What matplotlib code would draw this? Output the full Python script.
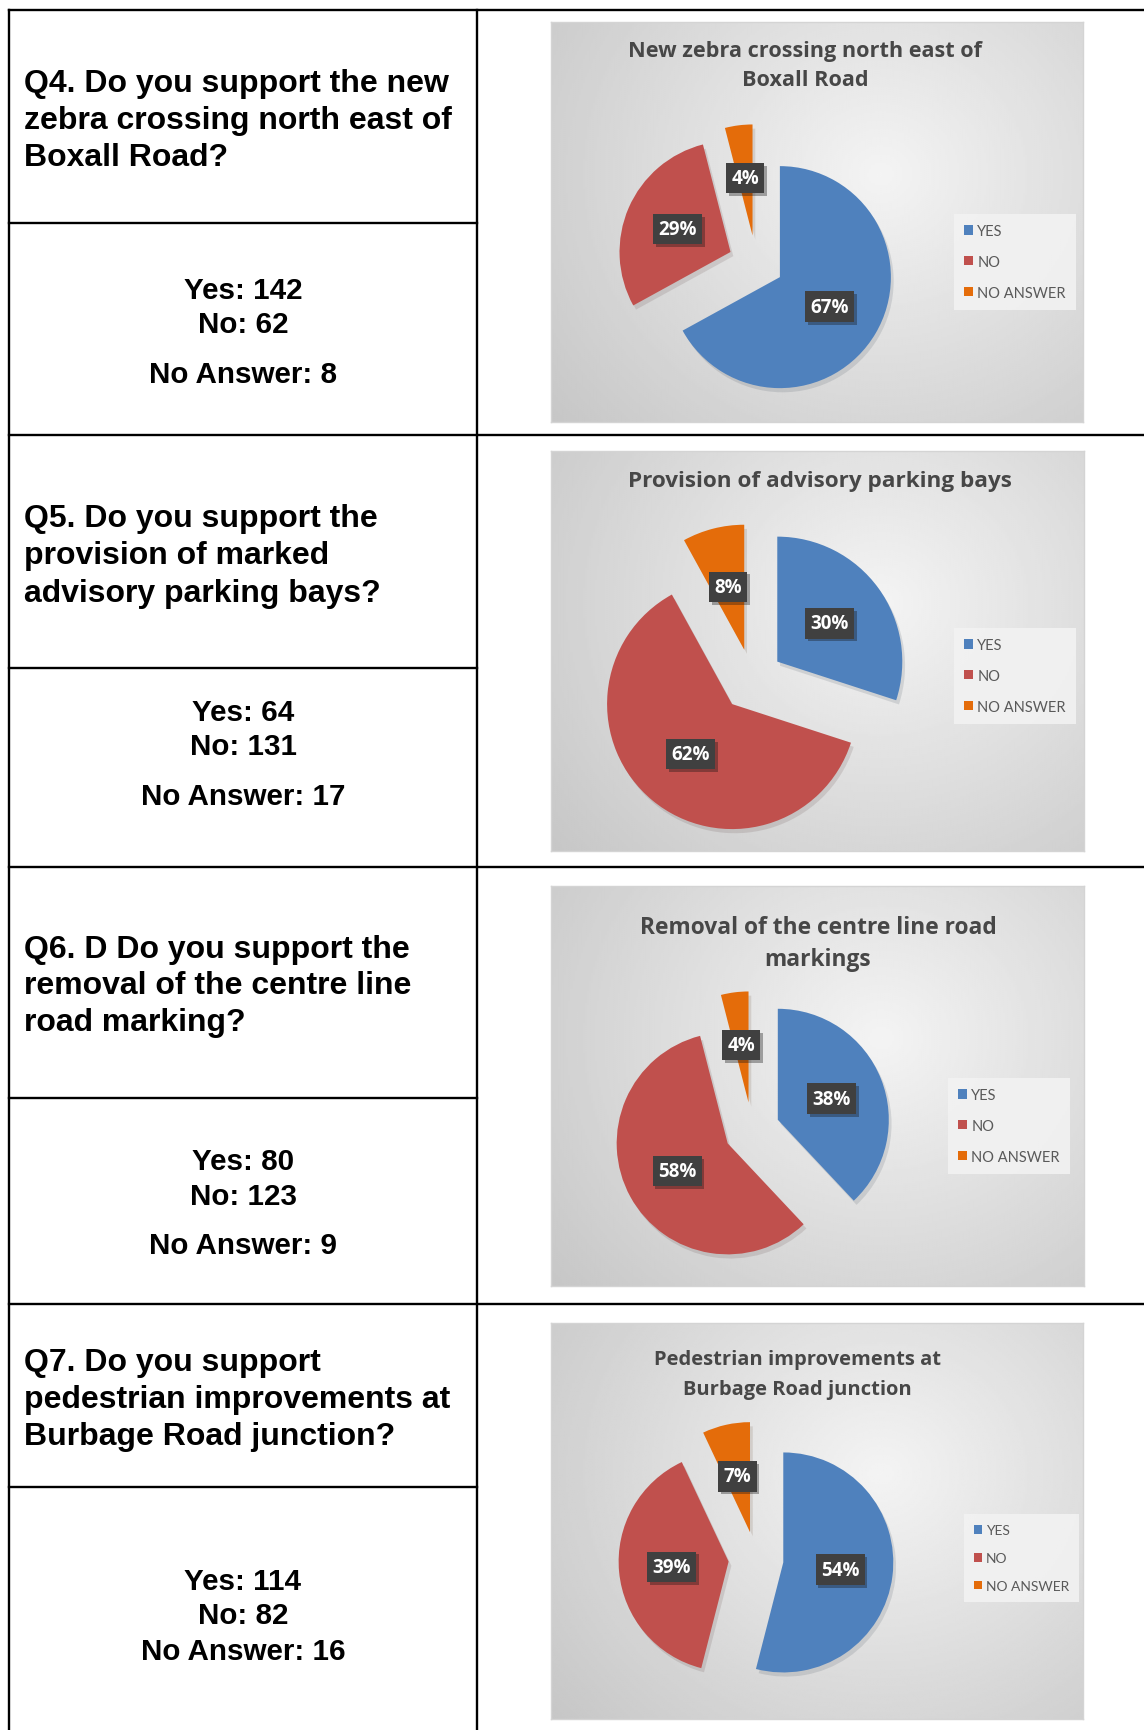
import numpy as np
import matplotlib.pyplot as plt
from matplotlib.patches import Patch
from matplotlib import font_manager as fm
import matplotlib.patheffects as pe

W, H = 1144, 1731

# survey questions (left column)
questions = [
    ["Q4. Do you support the new", "zebra crossing north east of", "Boxall Road?"],
    ["Q5. Do you support the", "provision of marked", "advisory parking bays?"],
    ["Q6. D Do you support the", "removal of the centre line", "road marking?"],
    ["Q7. Do you support", "pedestrian improvements at", "Burbage Road junction?"],
]
yes_counts = [142, 64, 80, 114]
no_counts = [62, 131, 123, 82]
na_counts = [8, 17, 9, 16]

# pie charts (right column)
chart_titles = [
    ["New zebra crossing north east of", "Boxall Road"],
    ["Provision of advisory parking bays"],
    ["Removal of the centre line road", "markings"],
    ["Pedestrian improvements at", "Burbage Road junction"],
]
yes_pct = [67, 30, 38, 54]
no_pct = [29, 62, 58, 39]
na_pct = [4, 8, 4, 7]
legend_labels = ["YES", "NO", "NO ANSWER"]
slice_colors = ["#4f81bd", "#c0504d", "#e46c0a"]

# page layout in pixels (top-left origin)
left_x, mid_x = 9, 477
top_y = 11
row_lines = [436, 868, 1305]
cell_lines = [224, 669, 1099, 1488]
q_line_y = [[84, 121, 158], [519, 556, 594], [950, 986, 1023], [1363, 1400, 1437]]
ans_line_y = [[291, 325, 375], [713, 747, 797], [1162, 1197, 1246], [1582, 1616, 1652]]
chart_box = [(551, 23, 1083, 423), (551, 452, 1084, 852),
             (551, 887, 1084, 1287), (551, 1324, 1083, 1720)]
title_y = [[51, 81], [482], [928, 960], [1360, 1390]]
title_x = [805, 820, 818, 797]
title_size = [15.6, 16.2, 16.4, 14.5]
pie_center = [(756, 264), (752, 681), (752, 1131), (756, 1560)]
pie_radius = [111, 125, 111, 110]
legend_anchor = [(954, 263), (954, 677), (948, 1127), (964, 1559)]
legend_size = [10.5, 10.5, 10.5, 10]


def bold_family(candidates):
    # first family that actually ships a bold face
    for name in candidates:
        for f in fm.fontManager.ttflist:
            if f.name == name and isinstance(f.weight, int) and f.weight >= 600:
                return name
    return "DejaVu Sans"


chart_bold = bold_family(["Open Sans", "Lato", "Noto Sans", "Roboto", "Liberation Sans"])

fig = plt.figure(figsize=(W / 100, H / 100), dpi=100)
fig.patch.set_facecolor("white")

bg = fig.add_axes([0, 0, 1, 1])
bg.set_xlim(0, W)
bg.set_ylim(H, 0)
bg.axis("off")

lw = 1.7
bg.plot([left_x, W], [top_y, top_y], color="black", lw=lw)
bg.plot([left_x, left_x], [top_y, H], color="black", lw=lw)
bg.plot([mid_x, mid_x], [top_y, H], color="black", lw=lw)
for y in row_lines:
    bg.plot([left_x, W], [y, y], color="black", lw=lw)
for y in cell_lines:
    bg.plot([left_x, mid_x], [y, y], color="black", lw=lw)

qfont = dict(family="Liberation Sans", fontweight="bold", color="black", va="center")
for i in range(4):
    for line, y in zip(questions[i], q_line_y[i]):
        bg.text(24, y, line, ha="left", fontsize=23, **qfont)
    answers = [f"Yes: {yes_counts[i]}", f"No: {no_counts[i]}", f"No Answer: {na_counts[i]}"]
    for line, y in zip(answers, ans_line_y[i]):
        bg.text((left_x + mid_x) / 2, y, line, ha="center", fontsize=21.3, **qfont)

# soft radial grey background used by every chart
gy, gx = np.mgrid[0:1:200j, 0:1:260j]
dist = np.sqrt(((gx - 0.62) / 1.0) ** 2 + ((gy - 0.38) / 1.2) ** 2)
shade = np.clip(0.955 - 0.22 * dist, 0.78, 0.955)

for i in range(4):
    x0, y0, x1, y1 = chart_box[i]
    cax = fig.add_axes([x0 / W, 1 - y1 / H, (x1 - x0) / W, (y1 - y0) / H])
    cax.imshow(shade, cmap="gray", vmin=0, vmax=1, extent=(0, 1, 0, 1),
               aspect="auto", origin="upper", interpolation="bilinear")
    cax.set_xticks([])
    cax.set_yticks([])
    for s in cax.spines.values():
        s.set_color("#d4d4d4")
        s.set_linewidth(1.0)

    for line, y in zip(chart_titles[i], title_y[i]):
        fig.text(title_x[i] / W, 1 - y / H, line, ha="center", va="center",
                 fontsize=title_size[i], fontweight="bold", color="#474747",
                 family=chart_bold, zorder=5)

    ox, oy = pie_center[i]
    r = pie_radius[i]
    L = 1.6
    side = 2 * L * r
    pax = fig.add_axes([(ox - side / 2) / W, 1 - (oy + side / 2) / H, side / W, side / H])
    vals = [yes_pct[i], no_pct[i], na_pct[i]]
    wedges, _, autotexts = pax.pie(
        vals, colors=slice_colors, startangle=90, counterclock=False,
        explode=[0.25] * 3, autopct=lambda p: f"{p:.0f}%", pctdistance=0.52,
        wedgeprops=dict(linewidth=0),
        textprops=dict(color="white", fontsize=13.5, fontweight="bold", family=chart_bold))
    for w in wedges:
        w.set_path_effects([pe.SimplePatchShadow(offset=(2, -3), alpha=0.12), pe.Normal()])
    for t in autotexts:
        t.set_bbox(dict(boxstyle="square,pad=0.28", fc="#404040", ec="none"))
        t.get_bbox_patch().set_path_effects(
            [pe.SimplePatchShadow(offset=(2, -2), alpha=0.35), pe.Normal()])
    pax.set_xlim(-L, L)
    pax.set_ylim(-L, L)
    pax.axis("off")

    lx, ly = legend_anchor[i]
    handles = [Patch(facecolor=c, edgecolor="none") for c in slice_colors]
    leg = fig.legend(handles, legend_labels, loc="center left",
                     bbox_to_anchor=(lx / W, 1 - ly / H),
                     prop=dict(family="Lato", size=legend_size[i]), labelcolor="#595959",
                     handlelength=0.6, handleheight=0.6, handletextpad=0.3,
                     labelspacing=1.15, borderpad=0.7, fancybox=False,
                     frameon=True, borderaxespad=0)
    leg.get_frame().set_facecolor("#f2f2f2")
    leg.get_frame().set_edgecolor("none")
    leg.get_frame().set_alpha(0.9)

fig.savefig("out.png", dpi=100)
